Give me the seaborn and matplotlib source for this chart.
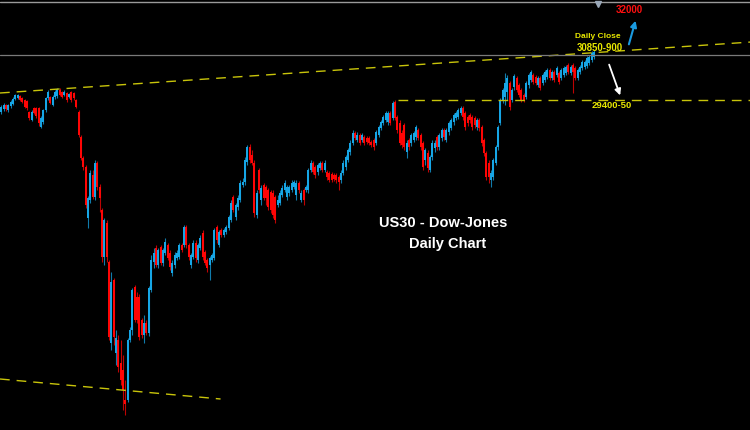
import numpy as np
import pandas as pd
import matplotlib
matplotlib.use("Agg")
import matplotlib.pyplot as plt
import seaborn as sns

# US30 daily candles
opens = [29040, 29130, 29250, 29100, 29220, 29280, 29430, 29460, 29520, 29460,
         29400, 29370, 29040, 28800, 29160, 29160, 29160, 28590, 28740, 29100,
         29460, 29490, 29250, 29490, 29520, 29700, 29640, 29550, 29610, 29490,
         29640, 29610, 29400,
         29040, 28290, 27660, 27390, 25860, 26400, 27150, 26490, 27510, 26790,
         26100, 24690, 25710, 24540, 22110, 24000, 21810, 22200, 21510, 21300,
         20400, 20400, 22200, 22500, 23790, 23490, 23490, 22800, 22350, 22710,
         22410, 23700,
         24540, 24960, 24450, 24990, 24510, 24810, 25050, 24810, 24210, 24450,
         24660, 24690, 25050, 25050, 25590, 25050, 24450, 24690, 25110, 24600,
         24960, 25410, 24840, 24600, 24450, 24600, 24660, 25590, 25050, 25500,
         25350, 25440, 25560, 25800, 26490, 25890, 26190, 26400, 26850, 26940,
         27540, 27990, 27750, 27510, 25950,
         27300, 26400, 26850, 26790, 26700, 26640, 26610, 26490, 26250, 26310,
         26550, 26700, 26490, 26610, 26700, 26790, 26550, 26910, 26400, 26700,
         26700, 26700, 27300, 27510, 27390, 27240, 27360, 27510, 27300, 27240,
         27210, 27180, 27150, 27150, 27090, 27000, 27210, 27390, 27600, 27840,
         28110, 28410, 28200, 28350, 28200, 28290, 28260, 28260, 28140, 28200,
         28110, 28350, 28560, 28710, 28800, 28740, 29010, 28860, 29340,
         28890, 28710, 28410, 28650, 27840, 28200, 28110, 28200, 28290, 28500,
         28350, 28110, 27600, 27810, 27300, 27690, 27960, 28290, 27990, 28260,
         28500, 28200, 28440, 28560, 28740, 28860, 28890, 29010, 29160, 29010,
         28890, 28950, 28890, 28860, 28590, 28800, 28590, 28200, 27810, 27510,
         27000, 27090, 27510, 27990,
         28710, 29400, 29490, 29640, 29910, 29400, 29790, 30060, 29850, 29700,
         29550, 29490, 29850, 30000, 30150, 30090, 29850, 30060, 29910, 30000,
         30090, 30300, 30060, 30240, 30150, 30210, 30060, 30150, 30210, 30450,
         30210, 30450, 30360, 30060, 30240, 30360, 30390, 30420, 30510, 30600,
         30690]
closes = [29190, 29250, 29130, 29250, 29340, 29430, 29550, 29550, 29400, 29340,
          29190, 29160, 28860, 29040, 29010, 28920, 28710, 28860, 29100, 29460,
          29640, 29310, 29490, 29640, 29730, 29550, 29490, 29640, 29400, 29580,
          29400, 29460, 29190,
          28350, 27660, 27390, 26250, 26460, 27210, 26490, 27510, 26790, 26460,
          24690, 25800, 24690, 22290, 23940, 22290, 22260, 21390, 21000, 20700,
          20280, 22200, 22500, 23700, 22800, 22800, 22290, 22350, 22710, 22410,
          23760, 24600,
          24810, 24450, 24900, 24510, 24900, 25140, 24660, 24390, 24510, 24750,
          24810, 25050, 24900, 25590, 25050, 24690, 24750, 25110, 24660, 25050,
          25260, 24690, 24510, 24360, 24660, 24750, 25500, 25200, 25440, 25350,
          25500, 25590, 25890, 26310, 26100, 26250, 26460, 26910, 26940, 27600,
          27990, 27600, 27510, 26010, 26610,
          26700, 26760, 26460, 26460, 26190, 26100, 25950, 25800, 26400, 26610,
          26760, 26910, 26790, 26790, 26910, 26940, 26910, 26700, 26610, 26400,
          26790, 27300, 27510, 27240, 27150, 27450, 27510, 27300, 27510, 27090,
          27000, 27000, 27030, 27000, 26940, 27210, 27510, 27690, 27900, 28110,
          28410, 28260, 28350, 28110, 28350, 28110, 28140, 28110, 28050, 27990,
          28440, 28590, 28740, 28890, 29010, 29010, 28710, 29310, 28860,
          28500, 28110, 28050, 27990, 28110, 27990, 28350, 28410, 28590, 28260,
          27990, 27390, 27900, 27360, 27690, 28110, 28110, 27990, 28350, 28500,
          28290, 28500, 28710, 28800, 28950, 29010, 29100, 29160, 28890, 28590,
          28710, 28800, 28590, 28650, 28800, 28560, 28110, 27810, 27090, 27090,
          27210, 27600, 27990, 28590,
          29400, 29700, 29910, 30060, 29190, 29700, 30120, 29700, 29550, 29400,
          29400, 29910, 30150, 30240, 29940, 29910, 30060, 29760, 30150, 30240,
          30300, 30060, 30240, 30000, 30360, 29940, 30300, 30360, 30390, 30240,
          30390, 30240, 30060, 30300, 30390, 30540, 30540, 30660, 30690, 30810,
          30840]
highs = [29250, 29310, 29280, 29280, 29400, 29490, 29580, 29580, 29550, 29490,
         29430, 29400, 29070, 29100, 29190, 29190, 29190, 28920, 29130, 29490,
         29700, 29520, 29550, 29700, 29760, 29760, 29670, 29700, 29640, 29610,
         29670, 29640, 29430,
         29100, 28350, 27720, 27450, 26520, 27300, 27300, 27600, 27570, 26880,
         26160, 25860, 25800, 24600, 24240, 24060, 22500, 22350, 22200, 21750,
         21000, 22260, 22590, 23760, 23850, 23640, 23580, 22860, 22950, 22800,
         23820, 24750,
         24960, 25050, 24960, 25050, 24960, 25260, 25110, 24900, 24600, 24840,
         24900, 25110, 25110, 25650, 25650, 25110, 24810, 25200, 25200, 25110,
         25350, 25500, 24900, 24660, 24720, 24810, 25560, 25650, 25500, 25560,
         25560, 25650, 25950, 26400, 26550, 26310, 26550, 27000, 27060, 27690,
         28050, 28080, 27900, 27600, 26700,
         27360, 26850, 26910, 26850, 26760, 26700, 26700, 26550, 26550, 26700,
         26850, 27000, 26850, 26850, 27000, 27000, 27000, 26970, 26700, 26760,
         26850, 27360, 27600, 27570, 27450, 27510, 27570, 27570, 27600, 27300,
         27270, 27240, 27210, 27210, 27150, 27300, 27600, 27750, 27960, 28200,
         28500, 28470, 28440, 28410, 28410, 28350, 28320, 28320, 28200, 28260,
         28500, 28650, 28800, 28950, 29070, 29070, 29070, 29370, 29400,
         28950, 28800, 28500, 28710, 28200, 28260, 28410, 28470, 28650, 28560,
         28410, 28170, 27960, 27900, 27750, 28200, 28200, 28350, 28410, 28560,
         28560, 28560, 28770, 28860, 29010, 29070, 29160, 29220, 29220, 29070,
         28950, 29010, 28950, 28920, 28860, 28860, 28650, 28260, 27870, 27600,
         27300, 27660, 28050, 28650,
         29460, 29760, 30210, 30150, 29970, 29760, 30180, 30120, 29910, 29760,
         29610, 29970, 30210, 30300, 30210, 30150, 30120, 30120, 30210, 30300,
         30360, 30360, 30300, 30300, 30420, 30270, 30360, 30420, 30450, 30510,
         30450, 30510, 30420, 30360, 30450, 30600, 30600, 30720, 30750, 30870,
         30900]
lows = [28980, 29070, 29070, 29040, 29160, 29250, 29400, 29430, 29370, 29310,
        29160, 29100, 28800, 28770, 28980, 28860, 28620, 28560, 28680, 29040,
        29400, 29280, 29220, 29430, 29460, 29520, 29460, 29520, 29340, 29460,
        29340, 29400, 29160,
        28290, 27600, 27300, 26160, 25560, 26310, 26430, 26400, 26700, 26040,
        24540, 24450, 24540, 22200, 21900, 22050, 21450, 21240, 20850, 20100,
        19950, 20340, 22140, 22350, 22740, 22710, 22200, 22260, 22110, 22350,
        22320, 23640,
        24360, 24390, 24360, 24450, 24420, 24750, 24600, 24300, 24120, 24360,
        24600, 24630, 24840, 24990, 24960, 24600, 24360, 24630, 24540, 24510,
        24900, 24600, 24450, 24240, 24000, 24540, 24600, 25110, 24990, 25290,
        25290, 25380, 25500, 25740, 26040, 25800, 26100, 26340, 26790, 26850,
        27450, 27510, 27450, 25890, 25860,
        26610, 26250, 26400, 26250, 26100, 26010, 25860, 25710, 26190, 26250,
        26490, 26640, 26400, 26520, 26640, 26730, 26400, 26610, 26340, 26250,
        26640, 26610, 27240, 27180, 27060, 27150, 27300, 27240, 27240, 27000,
        26940, 26940, 26970, 26910, 26700, 26910, 27150, 27300, 27540, 27750,
        28050, 28200, 28140, 28050, 28140, 28050, 28080, 28050, 27990, 27900,
        28050, 28290, 28500, 28650, 28740, 28650, 28650, 28800, 28800,
        28410, 28050, 27960, 27900, 27660, 27900, 28020, 28140, 28200, 28200,
        27900, 27300, 27450, 27240, 27240, 27600, 27840, 27900, 27900, 28170,
        28200, 28140, 28350, 28500, 28650, 28800, 28830, 28950, 28800, 28500,
        28620, 28710, 28500, 28560, 28500, 28470, 28020, 27720, 27000, 26910,
        26790, 27000, 27450, 27900,
        28650, 29310, 29250, 29400, 29100, 29340, 29700, 29640, 29490, 29340,
        29340, 29430, 29760, 29940, 29880, 29850, 29790, 29700, 29850, 29940,
        30030, 30000, 30000, 29940, 30090, 29880, 30000, 30090, 30150, 30180,
        30150, 29610, 30000, 30000, 30180, 30300, 30330, 30360, 30450, 30540,
        30630]

# annotation lines
upper_trend_x = [-0.5, 320]
upper_trend_y = [29610, 31140]
lower_trend_x = [-0.5, 93.6]
lower_trend_y = [21030, 20430]
support_start = 169.2
support_level = 29400
close_level = 30750

sns.set_theme(style="dark", rc={"axes.facecolor": "black", "figure.facecolor": "black"})
plt.rcParams["font.family"] = ["Liberation Sans", "DejaVu Sans"]

df = pd.DataFrame({"open": opens, "close": closes, "high": highs, "low": lows})
df["idx"] = np.arange(len(df))
up = df["close"] >= df["open"]
df["color"] = np.where(up, "#16a6e6", "#ff0505")

fig = plt.figure(figsize=(7.5, 4.3), dpi=100)
ax = fig.add_axes([0, 0, 1, 1])
ax.set_facecolor("black")

ax.vlines(df["idx"], df["low"], df["high"], colors=df["color"], linewidth=0.8, alpha=0.75)
ax.bar(df["idx"], (df["close"] - df["open"]).abs().clip(lower=25),
       bottom=df[["open", "close"]].min(axis=1), width=0.85, color=df["color"], linewidth=0)

dash = dict(color="#c8c40a", linewidth=1.0, linestyle=(0, (7, 5)))
sns.lineplot(x=upper_trend_x, y=upper_trend_y, ax=ax, **dash)
sns.lineplot(x=lower_trend_x, y=lower_trend_y, ax=ax, **dash)
ax.plot([support_start, 320], [support_level, support_level], **dash)
ax.axhline(close_level, color="#7a7a7a", linewidth=0.9)
ax.axhline(32340, color="#9a9a9a", linewidth=1.0)
ax.plot([254.7], [32290], marker="v", color="#9aa8b8", markersize=5)

bold = dict(fontweight="bold", ha="center", va="center")
ax.text(268, 32100, "32000", color="#ff1010", fontsize=7, **bold)
ax.text(254.7, 31290, "Daily Close", color="#e8e800", fontsize=6.0, **bold)
ax.text(255.6, 30960, "30850-900", color="#e8e800", fontsize=6.9, **bold)
ax.text(260.7, 29250, "29400-50", color="#e8e800", fontsize=6.8, **bold)
ax.text(188.5, 25710, "US30 - Dow-Jones", color="white", fontsize=10.5, **bold)
ax.text(190.6, 25080, "Daily Chart", color="white", fontsize=10.5, **bold)

ax.annotate("", xy=(271, 31860), xytext=(267.5, 30990),
            arrowprops=dict(arrowstyle="-|>", color="#1a9ae0", lw=1.5, mutation_scale=9))
ax.annotate("", xy=(264.5, 29460), xytext=(259, 30540),
            arrowprops=dict(arrowstyle="-|>", color="white", lw=1.3, mutation_scale=9))

ax.set_xlim(-0.5, 319.5)
ax.set_ylim(19500, 32400)
ax.set_axis_off()

fig.savefig("out.png", dpi=100, facecolor="black")
